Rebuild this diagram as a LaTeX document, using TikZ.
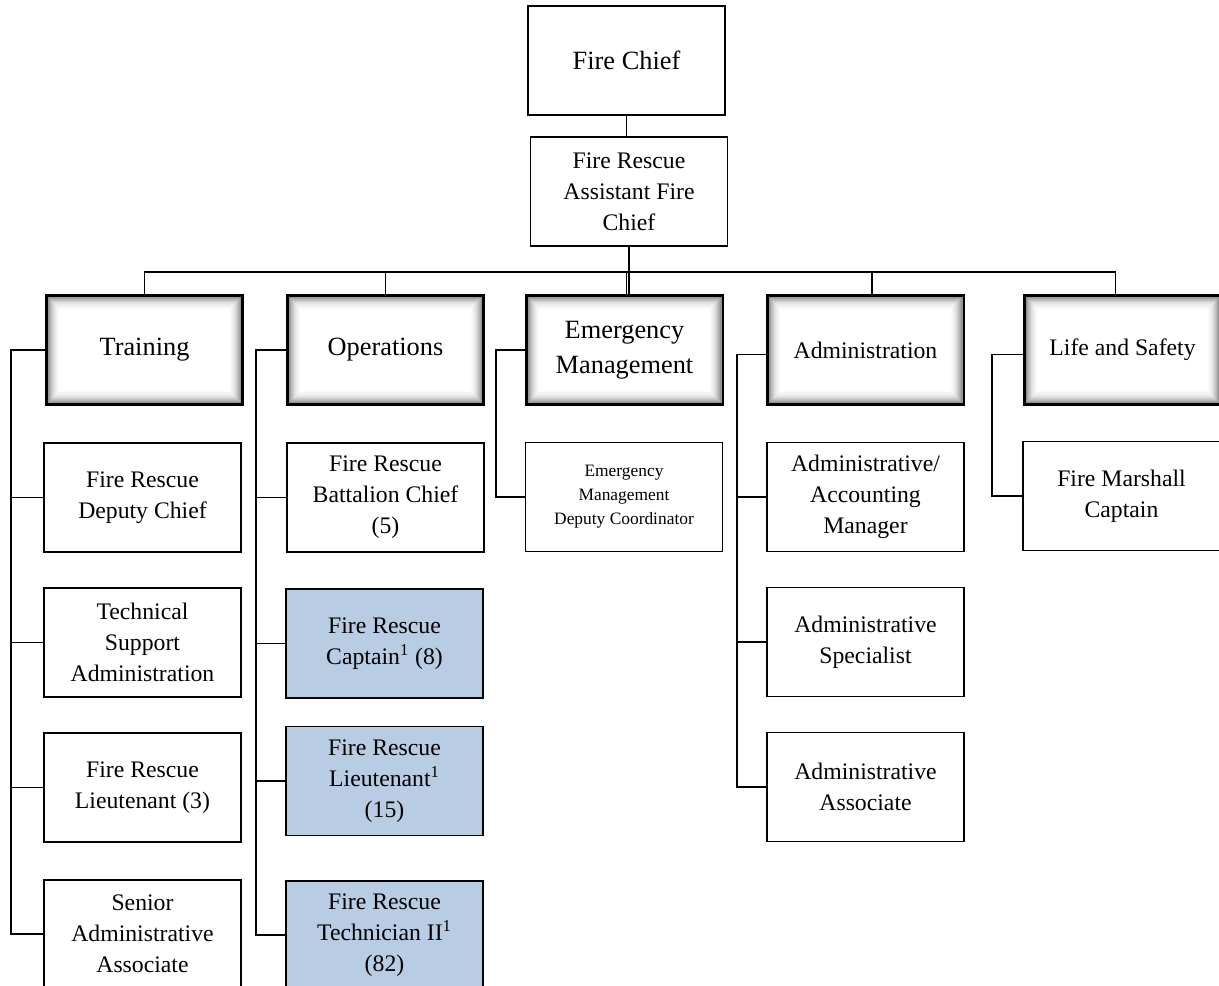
\documentclass[tikz,border=0pt]{standalone}
\usepackage{fontspec}
\setmainfont{Liberation Serif}
\definecolor{rankblue}{RGB}{184,204,228}
\tikzset{
  box/.style={draw, line width=1.1pt, minimum width=3.94cm, minimum height=2.18cm,
    align=center, inner sep=1pt, font=\fontsize{13.5}{17.6}\selectfont},
  rankbox/.style={box, fill=rankblue},
  dept/.style={box, line width=1.7pt, font=\fontsize{15}{19.8}\selectfont,
    path picture={
      \foreach \k/\g in {1/50,2/42,3/35,4/29,5/24,6/19,7/15,8/11,9/8,10/6,11/4,12/2}
        \draw[black!\g, line width=0.7pt]
          ([shift={(\k*0.6pt,-\k*0.6pt)}]path picture bounding box.north west) rectangle
          ([shift={(-\k*0.6pt,\k*0.6pt)}]path picture bounding box.south east);
    }},
  link/.style={line width=0.9pt},
}
\begin{document}
\begin{tikzpicture}[x=0.02cm, y=-0.02cm]
  \useasboundingbox (0,0) rectangle (1219,985);
  \clip (0,0) rectangle (1219,985);

  % top
  \node[box, font=\fontsize{15}{19.8}\selectfont] (chief) at (626.5,60.5) {Fire Chief};
  \node[box] (asst) at (629,191.5) {Fire Rescue\\Assistant Fire\\Chief};

  % divisions
  \node[dept] (train) at (144.5,350) {Training};
  \node[dept] (ops) at (385.5,350) {Operations};
  \node[dept] (emerg) at (624.5,350) {Emergency\\Management};
  \node[dept, font=\fontsize{13.5}{17.6}\selectfont] (admin) at (865.5,350) {Administration};
  \node[dept, font=\fontsize{13.5}{17.6}\selectfont] (life) at (1122.5,350) {Life and Safety};

  % training
  \node[box] (dchief) at (142.5,497.5) {Fire Rescue\\Deputy Chief};
  \node[box] (techsup) at (142.5,642.5) {Technical\\Support\\Administration};
  \node[box] (lt3) at (142.5,787.5) {Fire Rescue\\Lieutenant (3)};
  \node[box] (seniorAA) at (142.5,934) {Senior\\Administrative\\Associate};

  % operations
  \node[box] (bchief) at (385.5,497.5) {Fire Rescue\\Battalion Chief\\(5)};
  \node[rankbox] (capt) at (384.5,643.5) {Fire Rescue\\Captain\textsuperscript{1} (8)};
  \node[rankbox] (lt15) at (384.5,781) {Fire Rescue\\Lieutenant\textsuperscript{1}\\(15)};
  \node[rankbox] (tech2) at (384.5,935) {Fire Rescue\\Technician II\textsuperscript{1}\\(82)};

  % emergency management
  \node[box, font=\fontsize{9.9}{13.6}\selectfont] (deputyc) at (624,497) {Emergency\\Management\\Deputy Coordinator};

  % administration
  \node[box] (acctmgr) at (865.5,497) {Administrative/\\Accounting\\Manager};
  \node[box] (spec) at (865.5,642) {Administrative\\Specialist};
  \node[box] (assoc) at (865.5,787) {Administrative\\Associate};

  % life and safety
  \node[box] (marshall) at (1121.5,496) {Fire Marshall\\Captain};

  % connectors
  \coordinate (bus) at (0,272);
  \draw[link] (chief.south) -- (chief.south |- asst.north);
  \draw[link] (asst.south) -- (asst.south |- emerg.north);
  \draw[link] (train.north) -- (train.north |- bus) -- ([xshift=-4pt]life.north |- bus)
    -- ([xshift=-4pt]life.north);
  \draw[link] (ops.north) -- (ops.north |- bus);
  \draw[link] ([xshift=1.2pt]emerg.north) -- ([xshift=1.2pt]emerg.north |- bus);
  \draw[link] ([xshift=3.7pt]admin.north) -- ([xshift=3.7pt]admin.north |- bus);

  \coordinate (ttrunk) at (11,0);
  \coordinate (otrunk) at (256,0);
  \coordinate (etrunk) at (496,0);
  \coordinate (atrunk) at (737,0);
  \coordinate (ltrunk) at (992,0);
  \foreach \c in {dchief,techsup,lt3,seniorAA}
    \draw[link] (train.west) -| (\c.west -| ttrunk) -- (\c.west);
  \foreach \c in {bchief,capt,lt15,tech2}
    \draw[link] (ops.west) -| (\c.west -| otrunk) -- (\c.west);
  \draw[link] (emerg.west) -| (deputyc.west -| etrunk) -- (deputyc.west);
  \foreach \c in {acctmgr,spec,assoc}
    \draw[link] ([yshift=-2.5pt]admin.west) -| (\c.west -| atrunk) -- (\c.west);
  \draw[link] ([yshift=-2.5pt]life.west) -| (marshall.west -| ltrunk) -- (marshall.west);
\end{tikzpicture}
\end{document}
